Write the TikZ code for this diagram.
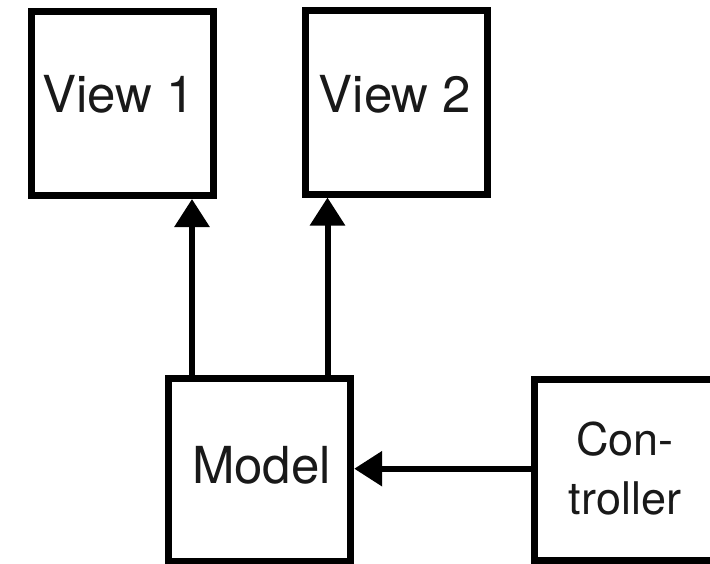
\documentclass[tikz,border=0pt]{standalone}
\usepackage{fontspec}
\setmainfont{TeX Gyre Heros}
\usetikzlibrary{arrows.meta}
\begin{document}
\begin{tikzpicture}[x=1pt,y=-1pt,
  box/.style={draw=black, line width=7pt, fill=white, inner sep=0pt,
              minimum width=182pt},
  lbl/.style={inner sep=0pt, text=black!90, font=\fontsize{51}{61}\selectfont},
  clbl/.style={inner sep=0pt, text=black!90, align=center,
               font=\fontsize{45}{59}\selectfont},
  arr/.style={line width=6pt, draw=black,
              -{Triangle[length=28pt,width=34pt]}}]
\clip (0,0) rectangle (710,563);
\fill[white] (0,0) rectangle (710,563);
% boxes
\node[box, minimum height=184.5pt] (v1) at (122.3,103.25) {};
\node[box, minimum height=183.2pt] (v2) at (396.9,102.4) {};
\node[box, minimum height=182.2pt] (m) at (259.7,469.9) {};
\node[box, minimum height=181.5pt] (c) at (625.9,470.2) {};
% labels
\node[lbl, anchor=base] (v1t) at (118.5,112) {View 1};
\node[lbl, anchor=base] (v2t) at (395,112) {View 2};
\node[lbl, anchor=base] (mt) at (261.5,483) {Model};
\node[clbl] (ct) at (625,469) {Con-\\troller};
% connectors
\coordinate (a1) at (192,0);
\coordinate (a2) at (327.5,0);
\draw[arr] (m.north -| a1) -- (v1.south -| a1);
\draw[arr] (m.north -| a2) -- (v2.south -| a2);
\draw[arr] ([yshift=1.5pt]c.west) -- ([yshift=1.5pt]c.west -| m.east);
\end{tikzpicture}
\end{document}
